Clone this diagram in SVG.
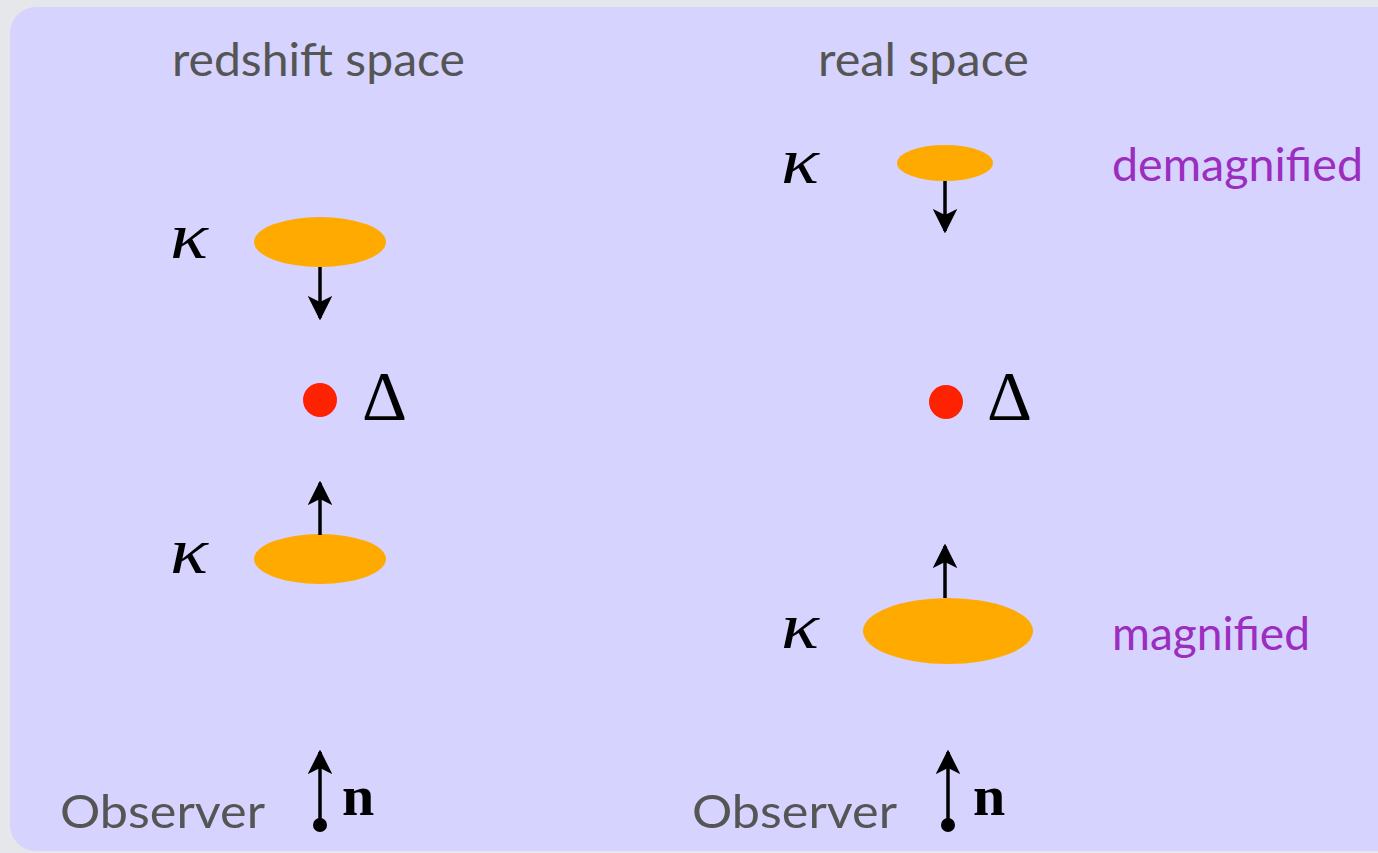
<svg xmlns="http://www.w3.org/2000/svg" width="1378" height="853" viewBox="0 0 1378 853">
<defs>
<marker id="ah" viewBox="0 0 10 10" refX="9" refY="5" markerWidth="7" markerHeight="7" markerUnits="strokeWidth" orient="auto">
<path d="M0,0 L10,5 L0,10 L2.5,5 Z" fill="#000"/>
</marker>
<style>
.title{font-family:Lato,"Open Sans",sans-serif;font-size:47px;fill:#555555}
.lab{font-family:Lato,"Open Sans",sans-serif;font-size:47px;fill:#9b2dbf}
.kap{font-family:"Liberation Serif",serif;font-style:italic;font-size:66px;fill:#000}
.del{font-family:"Liberation Serif",serif;font-size:70px;fill:#000}
.nb{font-family:"Liberation Serif",serif;font-weight:bold;font-size:58px;fill:#000}
.blob{fill:#ffaa00}
.dot{fill:#ff2200}
.arr{stroke:#000;stroke-width:3.5;fill:none;marker-end:url(#ah)}
</style>
</defs>
<rect x="0" y="0" width="1378" height="853" fill="#e6e7eb"/>
<rect x="10" y="7" width="1420" height="844" rx="26" ry="26" fill="#d6d3fe"/>
<text class="title" x="172" y="76" textLength="293" lengthAdjust="spacingAndGlyphs">redshift space</text>
<text class="title" x="818" y="76" textLength="211" lengthAdjust="spacingAndGlyphs">real space</text>
<g id="left-top">
<text class="kap" x="170" y="258" textLength="38" lengthAdjust="spacingAndGlyphs">κ</text>
<ellipse class="blob" cx="320" cy="242" rx="66" ry="25"/>
</g>
<g id="left-center">
<circle class="dot" cx="320" cy="400" r="17"/>
<text class="del" x="362" y="420">Δ</text>
</g>
<g id="left-bottom">
<text class="kap" x="170" y="573" textLength="38" lengthAdjust="spacingAndGlyphs">κ</text>
<ellipse class="blob" cx="320" cy="559" rx="66" ry="25"/>
</g>
<g id="right-top">
<text class="kap" x="781" y="183" textLength="38" lengthAdjust="spacingAndGlyphs">κ</text>
<ellipse class="blob" cx="945" cy="163" rx="48" ry="18"/>
<text class="lab" x="1112" y="181" textLength="251" lengthAdjust="spacingAndGlyphs">demagnified</text>
</g>
<g id="right-center">
<circle class="dot" cx="946" cy="402" r="17"/>
<text class="del" x="987" y="420">Δ</text>
</g>
<g id="right-bottom">
<text class="kap" x="781" y="648" textLength="38" lengthAdjust="spacingAndGlyphs">κ</text>
<ellipse class="blob" cx="948" cy="631" rx="85" ry="33"/>
<text class="lab" x="1112" y="650" textLength="198" lengthAdjust="spacingAndGlyphs">magnified</text>
</g>
<g id="observer-left">
<text class="title" x="60" y="828" textLength="205" lengthAdjust="spacingAndGlyphs">Observer</text>
<circle cx="320" cy="825" r="7" fill="#000"/>
<text class="nb" x="342" y="815">n</text>
</g>
<g id="observer-right">
<text class="title" x="692" y="828" textLength="205" lengthAdjust="spacingAndGlyphs">Observer</text>
<circle cx="948" cy="825" r="7" fill="#000"/>
<text class="nb" x="973" y="815">n</text>
</g>
<g id="connectors">
<line class="arr" x1="320" y1="267" x2="320" y2="318"/>
<line class="arr" x1="320" y1="535" x2="320" y2="483"/>
<line class="arr" x1="945" y1="181" x2="945" y2="231"/>
<line class="arr" x1="945" y1="598" x2="945" y2="546"/>
<line class="arr" x1="320" y1="825" x2="320" y2="752"/>
<line class="arr" x1="948" y1="825" x2="948" y2="752"/>
</g>
</svg>
